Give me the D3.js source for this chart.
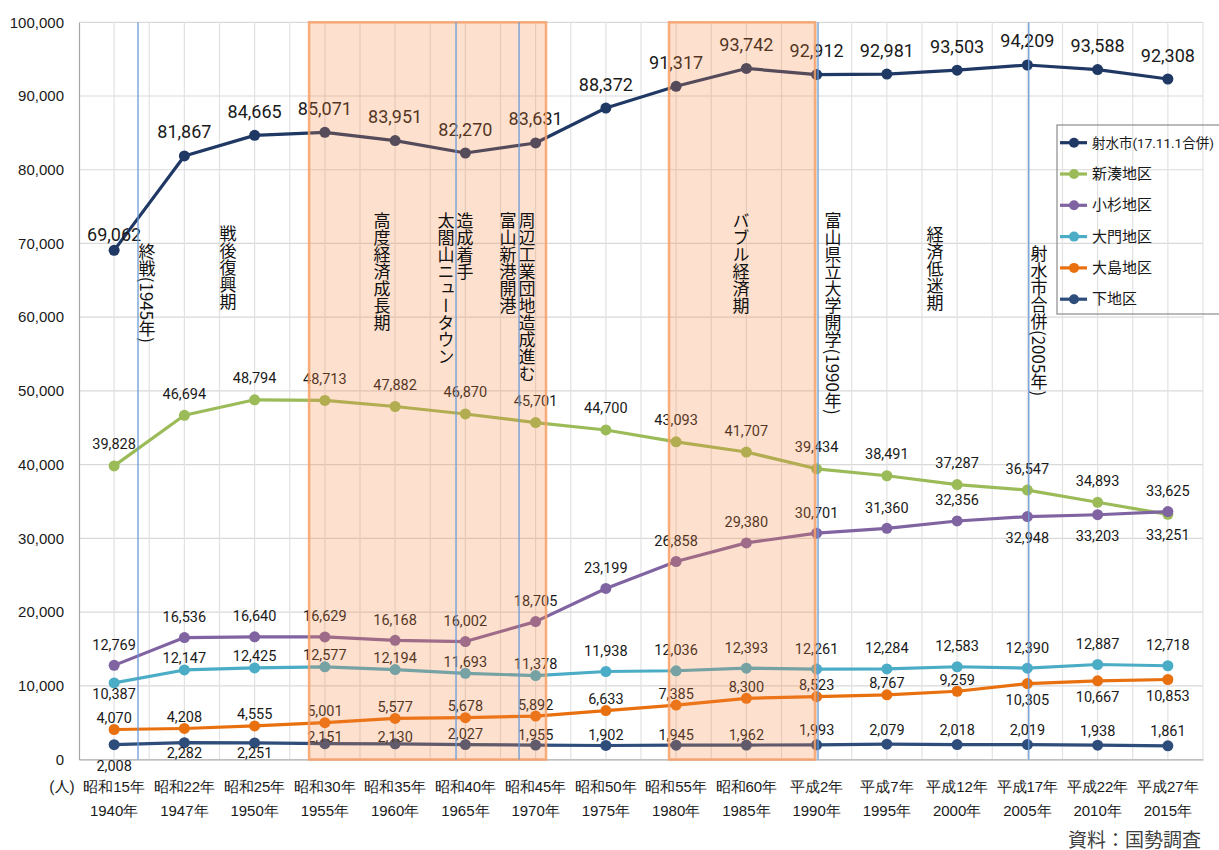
<!DOCTYPE html>
<html>
<head>
<meta charset="utf-8">
<script src="https://cdn.jsdelivr.net/npm/d3@7"></script>
<style>
  body { margin: 0; background: #fff; }
  svg { display: block; font-family: Roboto, "Noto Sans CJK JP", sans-serif; }
</style>
</head>
<body>
<div id="chart"></div>
<script>
// 和暦 / 西暦 の2段ラベル
var eraLabels = ["昭和15年","昭和22年","昭和25年","昭和30年","昭和35年","昭和40年","昭和45年","昭和50年",
                 "昭和55年","昭和60年","平成2年","平成7年","平成12年","平成17年","平成22年","平成27年"];
var yearLabels = ["1940年","1947年","1950年","1955年","1960年","1965年","1970年","1975年",
                  "1980年","1985年","1990年","1995年","2000年","2005年","2010年","2015年"];

var imizu      = [69062,81867,84665,85071,83951,82270,83631,88372,91317,93742,92912,92981,93503,94209,93588,92308];
var shinminato = [39828,46694,48794,48713,47882,46870,45701,44700,43093,41707,39434,38491,37287,36547,34893,33251];
var kosugi     = [12769,16536,16640,16629,16168,16002,18705,23199,26858,29380,30701,31360,32356,32948,33203,33625];
var daimon     = [10387,12147,12425,12577,12194,11693,11378,11938,12036,12393,12261,12284,12583,12390,12887,12718];
var oshima     = [4070,4208,4555,5001,5577,5678,5892,6633,7385,8300,8523,8767,9259,10305,10667,10853];
var shimo      = [2008,2282,2251,2151,2130,2027,1955,1902,1945,1962,1993,2079,2018,2019,1938,1861];

var yTicks = [0,10000,20000,30000,40000,50000,60000,70000,80000,90000,100000];

// 期間(網掛け)と出来事(縦線) ─ 位置は項目番号の小数で
var periods = [[2.775, 6.148], [7.899, 9.977]];
var eventLines = [0.34, 4.867, 5.764, 10.02, 13.02];
var notes = [
  { pos: 0.468, top: 70100, text: "終戦(1945年)" },
  { pos: 1.621, top: 72500, text: "戦後復興期" },
  { pos: 3.813, top: 74200, text: "高度経済成長期" },
  { pos: 4.724, top: 74200, text: "太閤山ニュータウン" },
  { pos: 4.994, top: 74200, text: "造成着手" },
  { pos: 5.607, top: 74200, text: "富山新港開港" },
  { pos: 5.877, top: 74200, text: "周辺工業団地造成進む" },
  { pos: 8.924, top: 74200, text: "バブル経済期" },
  { pos: 10.234, top: 74200, text: "富山県立大学開学(1990年)" },
  { pos: 11.686, top: 72300, text: "経済低迷期" },
  { pos: 13.166, top: 69800, text: "射水市合併(2005年)" }
];

var series = [
  { name: "射水市(17.11.1合併)", values: imizu,      color: "#1f3864", big: true,
    dy: function (i) { return i === 0 ? -16 : -24; } },
  { name: "新湊地区", values: shinminato, color: "#9bbb59",
    dy: function (i) { return i === 15 ? 21 : -21; } },
  { name: "小杉地区", values: kosugi,     color: "#8064a2",
    dy: function (i) { return (i === 13 || i === 14) ? 22 : -20; } },
  { name: "大門地区", values: daimon,     color: "#4bacc6",
    dy: function (i) { return i === 0 ? 12 : (i <= 6 ? -11 : -20); } },
  { name: "大島地区", values: oshima,     color: "#e8700f",
    dy: function (i) { return i >= 13 ? 17 : -11; } },
  { name: "下地区",   values: shimo,      color: "#2e4d7b",
    dy: function (i) { return i === 0 ? 22 : (i <= 2 ? 11 : (i <= 4 ? -6 : (i <= 9 ? -10 : -14))); } }
];

var width = 1219, height = 850;
var svg = d3.select("#chart").append("svg").attr("width", width).attr("height", height);

var x = d3.scaleBand().domain(d3.range(eraLabels.length)).range([79, 1203]);
var xf = d3.scaleLinear().domain([-0.5, eraLabels.length - 0.5]).range(x.range());
var y = d3.scaleLinear().domain([0, 100000]).range([759.5, 22.3]);

// grid
svg.append("g").selectAll("line").data(yTicks).enter().append("line")
  .attr("x1", 79).attr("x2", 1203).attr("y1", d => y(d)).attr("y2", d => y(d))
  .attr("stroke", "#d9d9d9").attr("stroke-width", 1.2);
svg.append("g").selectAll("line").data(d3.range(1, eraLabels.length * 2 + 1)).enter().append("line")
  .attr("x1", d => xf(-0.5 + d / 2)).attr("x2", d => xf(-0.5 + d / 2))
  .attr("y1", y(100000)).attr("y2", y(0))
  .attr("stroke", "#e2e2e2").attr("stroke-width", 1.2);

// axes
var yAxis = svg.append("g").attr("transform", "translate(79,0)")
  .call(d3.axisLeft(y).tickValues(yTicks).tickFormat(d3.format(",")).tickSize(0).tickPadding(15));
yAxis.select(".domain").attr("stroke", "#a6a6a6").attr("stroke-width", 1.2);
yAxis.selectAll("text").style("font-size", "15px").attr("fill", "#1a1a1a");

var xAxis = svg.append("g").attr("transform", "translate(0," + y(0) + ")")
  .call(d3.axisBottom(x).tickSize(0).tickFormat(""));
xAxis.select(".domain").attr("stroke", "#a6a6a6").attr("stroke-width", 1.2);
xAxis.selectAll(".tick").each(function (d) {
  var t = d3.select(this).append("text").attr("fill", "#1a1a1a")
    .attr("text-anchor", "middle").style("font-size", "15px");
  t.append("tspan").attr("x", 0).attr("y", 32).text(eraLabels[d]);
  t.append("tspan").attr("x", 0).attr("y", 56).text(yearLabels[d]);
});
svg.append("text").attr("x", 62).attr("y", y(0) + 32).attr("text-anchor", "middle")
  .style("font-size", "15px").attr("fill", "#1a1a1a").text("(人)");

// lines + markers
var line = d3.line().x((d, i) => xf(i)).y(d => y(d));
series.forEach(function (s) {
  var g = svg.append("g");
  g.append("path").datum(s.values).attr("d", line)
    .attr("fill", "none").attr("stroke", s.color).attr("stroke-width", 3.2)
    .attr("stroke-linejoin", "round");
  g.selectAll("circle").data(s.values).enter().append("circle")
    .attr("cx", (d, i) => xf(i)).attr("cy", d => y(d)).attr("r", 5.5).attr("fill", s.color);
});

// data labels
series.forEach(function (s) {
  svg.append("g").selectAll("text").data(s.values).enter().append("text")
    .attr("x", (d, i) => xf(i)).attr("y", (d, i) => y(d) + s.dy(i))
    .attr("text-anchor", "middle").attr("dominant-baseline", "central")
    .style("font-size", s.big ? "18px" : "14.5px").attr("fill", "#1a1a1a")
    .text(d => d3.format(",")(d));
});

// shaded periods
svg.append("g").selectAll("rect").data(periods).enter().append("rect")
  .attr("x", d => xf(d[0])).attr("width", d => xf(d[1]) - xf(d[0]))
  .attr("y", y(100000)).attr("height", y(0) - y(100000))
  .attr("fill", "#f7823c").attr("fill-opacity", 0.25)
  .attr("stroke", "#f7a066").attr("stroke-width", 2.5).attr("stroke-opacity", 0.85);

// notes (vertical text)
svg.append("g").selectAll("text").data(notes).enter().append("text")
  .attr("x", d => xf(d.pos)).attr("y", d => y(d.top))
  .style("writing-mode", "vertical-rl").style("font-size", "17px")
  .style("font-family", "'Noto Sans CJK JP', sans-serif")
  .attr("fill", "#111").text(d => d.text);

// event lines
svg.append("g").selectAll("line").data(eventLines).enter().append("line")
  .attr("x1", d => xf(d)).attr("x2", d => xf(d))
  .attr("y1", y(100000)).attr("y2", y(0))
  .attr("stroke", "#6a9bd8").attr("stroke-width", 1.3);

// legend
var lg = svg.append("g");
lg.append("rect").attr("x", 1057).attr("y", 125).attr("width", 200).attr("height", 189)
  .attr("fill", "none").attr("stroke", "#8c8c8c").attr("stroke-width", 1.2);
series.forEach(function (s, i) {
  var ly = 142.7 + i * 31.3;
  lg.append("line").attr("x1", 1060).attr("x2", 1087).attr("y1", ly).attr("y2", ly)
    .attr("stroke", s.color).attr("stroke-width", 3.2);
  lg.append("circle").attr("cx", 1074).attr("cy", ly).attr("r", 5).attr("fill", s.color);
  lg.append("text").attr("x", 1092).attr("y", ly).attr("dominant-baseline", "central")
    .style("font-size", s.big ? "13.5px" : "15px").attr("fill", "#1a1a1a").text(s.name);
});

// source
svg.append("text").attr("x", 1201).attr("y", 838).attr("text-anchor", "end")
  .attr("dominant-baseline", "central").style("font-size", "19px")
  .style("font-family", "'Noto Sans CJK JP', sans-serif")
  .attr("fill", "#404040").text("資料：国勢調査");
</script>
</body>
</html>
